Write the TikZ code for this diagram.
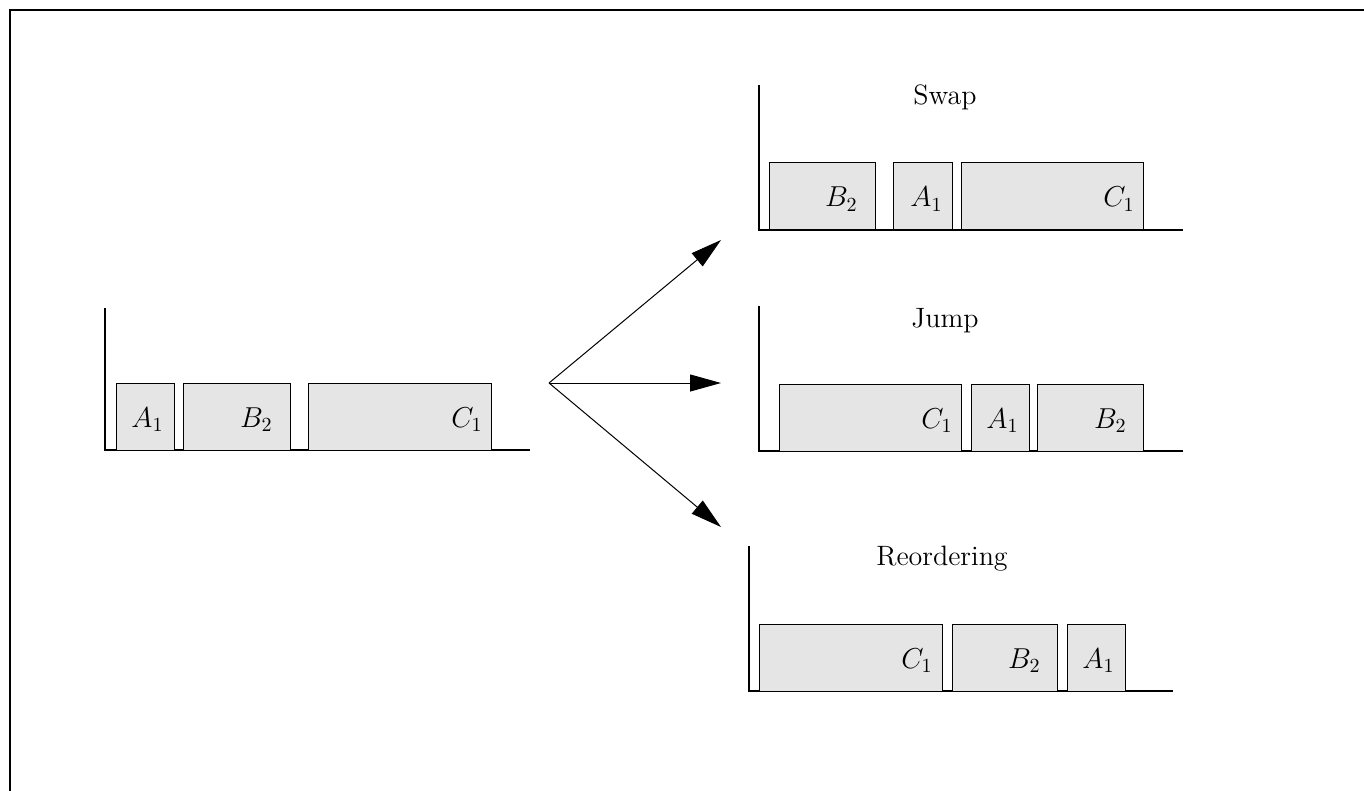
\documentclass[tikz,border=0pt]{standalone}
\usetikzlibrary{arrows.meta}
\tikzset{
  frame/.style={line width=1pt, black},
  axis/.style={line width=1pt, black},
  box/.style={draw=black, line width=0.5pt, fill=black!10},
  lab/.style={anchor=base east, inner sep=0pt, font=\fontsize{14.5}{17}\selectfont},
  ttl/.style={anchor=base, inner sep=0pt, font=\fontsize{14}{17}\selectfont},
  arr/.style={line width=0.5pt, -{Triangle[length=15.5pt,width=8.5pt]}}
}
\begin{document}
\begin{tikzpicture}[x=0.5pt,y=-0.5pt]
\useasboundingbox (0,0) rectangle (1364,791);
% frame
\draw[frame] (10,791) -- (10,10.5) -- (1364,10.5);

% left chart
\draw[axis] (105,308) -- (105,450) -- (530,450);
\draw[box] (116,383) rectangle (174,450);
\draw[box] (183,383) rectangle (290,450);
\draw[box] (308,383) rectangle (491,450);
\node[lab] (lA) at (164,427) {$A_1$};
\node[lab] (lB) at (273,427) {$B_2$};
\node[lab] (lC) at (483,427) {$C_1$};

% swap chart
\node[ttl] (tS) at (945,105) {Swap};
\draw[axis] (759,85) -- (759,230) -- (1183,230);
\draw[box] (769,163) rectangle (875,230);
\draw[box] (893,163) rectangle (952,230);
\draw[box] (961,163) rectangle (1143,230);
\node[lab] (sB) at (858,207) {$B_2$};
\node[lab] (sA) at (943,207) {$A_1$};
\node[lab] (sC) at (1135,207) {$C_1$};

% jump chart
\node[ttl] (tJ) at (945,327) {Jump};
\draw[axis] (759,306) -- (759,451) -- (1183,451);
\draw[box] (779,384) rectangle (961,451);
\draw[box] (971,384) rectangle (1029,451);
\draw[box] (1037,384) rectangle (1143,451);
\node[lab] (jC) at (953,428) {$C_1$};
\node[lab] (jA) at (1019,428) {$A_1$};
\node[lab] (jB) at (1127,428) {$B_2$};

% reordering chart
\node[ttl] (tR) at (942,565) {Reordering};
\draw[axis] (749,546) -- (749,691) -- (1173,691);
\draw[box] (759,624) rectangle (942,691);
\draw[box] (952,624) rectangle (1057,691);
\draw[box] (1067,624) rectangle (1125,691);
\node[lab] (rC) at (933,668) {$C_1$};
\node[lab] (rB) at (1041,668) {$B_2$};
\node[lab] (rA) at (1115,668) {$A_1$};

% arrows
\coordinate (o) at (549,383);
\coordinate (t1) at (721,240);
\coordinate (t2) at (721,383);
\coordinate (t3) at (721,527);
\draw[arr] (o) -- (t1);
\draw[arr] (o) -- (t2);
\draw[arr] (o) -- (t3);
\end{tikzpicture}
\end{document}
